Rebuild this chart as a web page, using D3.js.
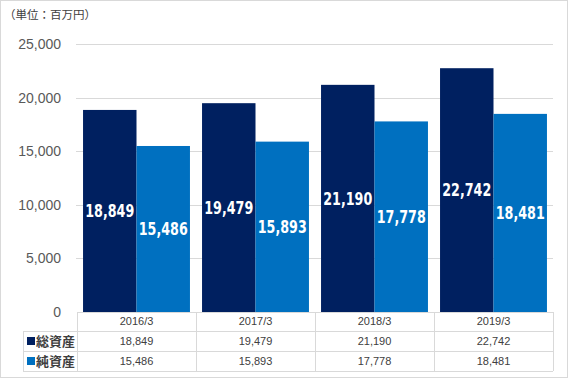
<!DOCTYPE html>
<html><head><meta charset="utf-8">
<script src="https://cdn.jsdelivr.net/npm/d3@7/dist/d3.min.js"></script>
<style>body{margin:0;background:#fff}svg{display:block}</style>
</head><body>
<script>
const categories = ["2016/3", "2017/3", "2018/3", "2019/3"];
const seriesNames = ["総資産", "純資産"];
const totalAssets = [18849, 19479, 21190, 22742];
const netAssets = [15486, 15893, 17778, 18481];
const yTicks = [0, 5000, 10000, 15000, 20000, 25000];
const colors = ["#002060", "#0070C0"];
const series = [totalAssets, netAssets];

(function () {
const W = 568, H = 378;
const svg = d3.select("body").append("svg").attr("width", W).attr("height", H);
svg.append("rect").attr("x", 0.5).attr("y", 0.5).attr("width", W - 1).attr("height", H - 1)
  .attr("fill", "#fff").attr("stroke", "#d9d9d9");

svg.append("text").attr("x", 4).attr("y", 19).attr("font-size", 11.5)
  .attr("font-family", "'Noto Sans CJK JP', sans-serif").attr("fill", "#404040")
  .text("（単位：百万円）");

const pLeft = 77, pRight = 553, pTop = 44, pBottom = 312;
const x = d3.scaleBand().domain(categories).range([pLeft, pRight]).paddingInner(0).paddingOuter(0);
const y = d3.scaleLinear().domain([0, 25000]).range([pBottom, pTop]);
const xs = d3.scaleBand().domain([0, 1]).range([0, x.bandwidth()]).paddingOuter(0.113).paddingInner(0);

svg.append("g").selectAll("line").data(yTicks.filter(d => d > 0)).join("line")
  .attr("x1", pLeft - 1).attr("x2", pRight).attr("y1", d => Math.round(y(d)) + 0.5).attr("y2", d => Math.round(y(d)) + 0.5)
  .attr("stroke", "#d9d9d9");

const yAxis = d3.axisLeft(y).tickValues(yTicks).tickSize(0).tickPadding(0).tickFormat(d3.format(","));
const ya = svg.append("g").attr("transform", `translate(61,0)`).call(yAxis);
ya.select(".domain").remove();
ya.selectAll("text").attr("font-size", 14).attr("font-family", "'Liberation Sans', Arial, sans-serif").attr("fill", "#595959");

series.forEach((vals, si) => {
  const g = svg.append("g");
  g.selectAll("rect").data(vals).join("rect")
    .attr("x", (d, i) => x(categories[i]) + xs(si))
    .attr("width", xs.bandwidth())
    .attr("y", d => y(d)).attr("height", d => y(0) - y(d))
    .attr("fill", colors[si]);
  g.selectAll("text").data(vals).join("text")
    .attr("x", (d, i) => x(categories[i]) + xs(si) + xs.bandwidth() / 2)
    .attr("y", d => (y(d) + y(0)) / 2)
    .attr("dy", "0.36em").attr("text-anchor", "middle")
    .attr("font-size", 17).attr("font-weight", "bold")
    .attr("font-family", "'DejaVu Sans Condensed', 'DejaVu Sans', sans-serif")
    .attr("textLength", 49).attr("lengthAdjust", "spacingAndGlyphs")
    .attr("fill", "#fff").text(d => d3.format(",")(d));
});

const rowH = [312, 331, 351, 371];
const tleft = 23;
const tg = svg.append("g").attr("stroke", "#d9d9d9").attr("fill", "none");
tg.append("line").attr("x1", pLeft).attr("x2", pRight).attr("y1", rowH[0] + 0.5).attr("y2", rowH[0] + 0.5);
[1, 2, 3].forEach(i => tg.append("line").attr("x1", tleft).attr("x2", pRight)
  .attr("y1", rowH[i] + 0.5).attr("y2", rowH[i] + 0.5));
categories.forEach((c) => tg.append("line").attr("x1", Math.round(x(c)) + 0.5).attr("x2", Math.round(x(c)) + 0.5)
  .attr("y1", rowH[0]).attr("y2", rowH[3]));
tg.append("line").attr("x1", pRight + 0.5).attr("x2", pRight + 0.5).attr("y1", rowH[0]).attr("y2", rowH[3]);
tg.append("line").attr("x1", tleft + 0.5).attr("x2", tleft + 0.5).attr("y1", rowH[1]).attr("y2", rowH[3]);

const tf = "'Liberation Sans', Arial, sans-serif";
svg.append("g").selectAll("text").data(categories).join("text")
  .attr("x", d => x(d) + x.bandwidth() / 2).attr("y", (rowH[0] + rowH[1]) / 2).attr("dy", "0.36em")
  .attr("text-anchor", "middle").attr("font-size", 11).attr("font-family", tf).attr("fill", "#404040").text(d => d);
series.forEach((vals, si) => {
  const cy = (rowH[si + 1] + rowH[si + 2]) / 2;
  svg.append("g").selectAll("text").data(vals).join("text")
    .attr("x", (d, i) => x(categories[i]) + x.bandwidth() / 2).attr("y", cy).attr("dy", "0.36em")
    .attr("text-anchor", "middle").attr("font-size", 11).attr("font-family", tf).attr("fill", "#404040")
    .text(d => d3.format(",")(d));
  svg.append("rect").attr("x", 27).attr("y", cy - 4).attr("width", 8).attr("height", 8).attr("fill", colors[si]);
  svg.append("text").attr("x", 36).attr("y", cy).attr("dy", "0.36em")
    .attr("font-size", 13).attr("font-weight", "bold").attr("font-family", "'Noto Sans CJK JP', sans-serif")
    .attr("fill", "#404040").text(seriesNames[si]);
});
})();
</script>
</body></html>
